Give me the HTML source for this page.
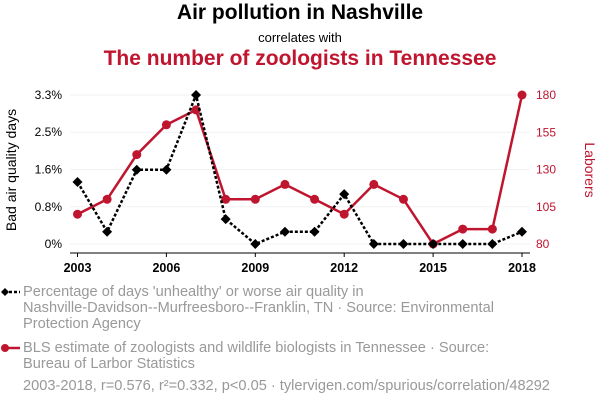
<!DOCTYPE html>
<html><head><meta charset="utf-8"><style>
body{margin:0;width:600px;height:408px;background:#fff;font-family:"Liberation Sans",sans-serif;overflow:hidden}
.t{position:absolute;left:0;width:600px;text-align:center}
.lg{position:absolute;left:23px;color:#999;font-size:14.6px;line-height:16px;width:575px;white-space:nowrap}
</style></head><body>
<div class="t" style="top:1px;font-size:21px;font-weight:bold;color:#000">Air pollution in Nashville</div>
<div class="t" style="top:30px;font-size:13px;color:#000">correlates with</div>
<div class="t" style="top:47px;font-size:21px;font-weight:bold;color:#c0152f">The number of zoologists in Tennessee</div>
<svg id="c" width="600" height="408" style="position:absolute;left:0;top:0"></svg>
<div class="lg" style="top:284px">Percentage of days 'unhealthy' or worse air quality in<br>Nashville-Davidson--Murfreesboro--Franklin, TN · Source: Environmental<br>Protection Agency</div>
<div class="lg" style="top:340px">BLS estimate of zoologists and wildlife biologists in Tennessee · Source:<br>Bureau of Larbor Statistics</div>
<div class="lg" style="top:378px">2003-2018, r=0.576, r²=0.332, p&lt;0.05 · tylervigen.com/spurious/correlation/48292</div>
<script>
const years=[2003,2004,2005,2006,2007,2008,2009,2010,2011,2012,2013,2014,2015,2016,2017,2018];
const pollution=[1.37,0.27,1.64,1.64,3.29,0.55,0,0.27,0.27,1.1,0,0,0,0,0,0.27];
const zoologists=[100,110,140,160,170,110,110,120,110,100,120,110,80,90,90,180];
const leftTicks=[0,0.82,1.64,2.47,3.29];
const leftLabels=['0%','0.8%','1.6%','2.5%','3.3%'];
const rightTicks=[80,105,130,155,180];
const xTicks=[2003,2006,2009,2012,2015,2018];
const svg=document.getElementById('c');const NS='http://www.w3.org/2000/svg';
const X=y=>77.5+(y-2003)*(522-77.5)/15;
const YL=v=>244-v*(149/3.29);
const YR=v=>244-(v-80)*149/100;
function mk(t,a,p){const e=document.createElementNS(NS,t);for(const k in a)e.setAttribute(k,a[k]);(p||svg).appendChild(e);return e;}
rightTicks.forEach(v=>{const g=mk('line',{x1:70,x2:530,y1:YR(v),y2:YR(v),stroke:'#f2f2f2','stroke-width':1});

});
leftTicks.forEach((v,i)=>{const t=mk('text',{x:62,y:YL(v)+4,'text-anchor':'end','font-size':12,fill:'#000'});t.textContent=leftLabels[i];

});
rightTicks.forEach(v=>{const t=mk('text',{x:536,y:YR(v)+4,'font-size':12,fill:'#c0152f'});t.textContent=v;

});
mk('line',{x1:70,x2:530,y1:253,y2:253,stroke:'#000'});
xTicks.forEach(v=>{mk('line',{x1:X(v),x2:X(v),y1:253,y2:257,stroke:'#000'});const t=mk('text',{x:X(v),y:272,'text-anchor':'middle','font-size':12.5,'font-weight':'bold'});t.textContent=v;

});
let yt=mk('text',{x:0,y:0,'font-size':14,'text-anchor':'middle',transform:'translate(16,170) rotate(-90)'});yt.textContent='Bad air quality days';


let yr=mk('text',{x:0,y:0,'font-size':14,'text-anchor':'middle',fill:'#c0152f',transform:'translate(585,170) rotate(90)'});yr.textContent='Laborers';


const rl=mk('polyline',{points:years.map((y,i)=>X(y)+','+YR(zoologists[i])).join(' '),fill:'none',stroke:'#c0152f','stroke-width':2.5});


years.forEach((y,i)=>{const c=mk('circle',{cx:X(y),cy:YR(zoologists[i]),r:4.5,fill:'#c0152f'});

});
const bl=mk('polyline',{points:years.map((y,i)=>X(y)+','+YL(pollution[i])).join(' '),fill:'none',stroke:'#000','stroke-width':2.5,'stroke-dasharray':'3,2'});


years.forEach((y,i)=>{const x=X(y),yy=YL(pollution[i]);const p=mk('polygon',{points:`${x},${yy-5} ${x+5},${yy} ${x},${yy+5} ${x-5},${yy}`,fill:'#000'});

});
const l1=mk('line',{x1:4,x2:20,y1:292,y2:292,stroke:'#000','stroke-width':2.5,'stroke-dasharray':'3,2'});


mk('polygon',{points:'5,288 9,292 5,296 1,292',fill:'#000'});
const l2=mk('line',{x1:4,x2:20,y1:348,y2:348,stroke:'#c0152f','stroke-width':2.5});


mk('circle',{cx:5,cy:348,r:4,fill:'#c0152f'});
</script>
</body></html>
